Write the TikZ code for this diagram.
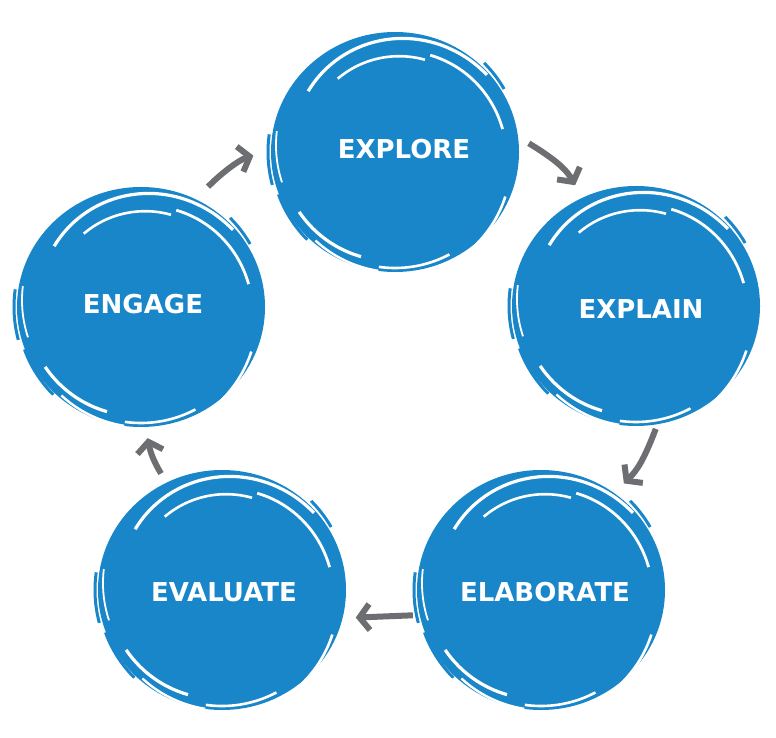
\documentclass[tikz,border=0pt]{standalone}
\usepackage{fontspec}
\setmainfont{DejaVu Sans}
\usetikzlibrary{arrows.meta}
\definecolor{cycleblue}{HTML}{1886C8}
\definecolor{arrowgray}{HTML}{6D6E71}
\tikzset{
  scribble/.pic={
    \fill[cycleblue] (0,0) ellipse (124 and 120);
    \foreach \a/\b/\ra/\rb/\w in {145/40/106/120/3.2, 128/72/93/97/2.6, 70/12/103/110/2.8, 212/252/113/110/3.2, 228/262/119/120/2.4, 262/298/116/116/2.6, 338/305/119/124/2.6, 195/170/117/120/1.8}
      \draw[white, line width=\w pt] plot[domain=\a:\b, samples=40] ({(\ra+(\rb-\ra)*(\x-\a)/(\b-\a))*cos(\x)}, {(\ra+(\rb-\ra)*(\x-\a)/(\b-\a))*sin(\x)});
    \foreach \a/\b/\r in {172/195/127, 200/225/124, 45/30/126}
      \draw[cycleblue, line width=3pt] (\a:\r) arc[start angle=\a, end angle=\b, radius=\r];
  },
  stage/.style={circle, minimum size=268pt, inner sep=0pt, text=white, font=\bfseries\fontsize{26}{30}\selectfont},
  cyclearrow/.style={arrowgray, line width=6pt, -{Straight Barb[length=10pt,width=26pt]}}
}
\begin{document}
\begin{tikzpicture}[x=1pt, y=1pt]
\useasboundingbox (0,0) rectangle (776,737);
% scribbled circles
\pic at (395,585) {scribble};
\pic at (636,431) {scribble};
\pic at (541,147) {scribble};
\pic at (222,147) {scribble};
\pic at (141,430) {scribble};
% stage names
\node[stage] (explore) at (404,588) {EXPLORE};
\node[stage] (explain) at (641,428) {EXPLAIN};
\node[stage] (elaborate) at (545,145) {ELABORATE};
\node[stage] (evaluate) at (224,145) {EVALUATE};
\node[stage] (engage) at (143,433) {ENGAGE};
% cycle arrows
\draw[cyclearrow, shorten >=17pt] (engage.61) to[bend left=15] (explore.181);
\draw[cyclearrow, shorten <=-11pt, shorten >=6pt] (explore.0) to[bend left=15] (explain.118);
\draw[cyclearrow, shorten <=-15pt] (explain.-86) to[bend left=12] (elaborate.54);
\draw[cyclearrow] (elaborate.190) to (evaluate.-11);
\draw[cyclearrow] (evaluate.118) to[bend left=10] (engage.-88);
\end{tikzpicture}
\end{document}
